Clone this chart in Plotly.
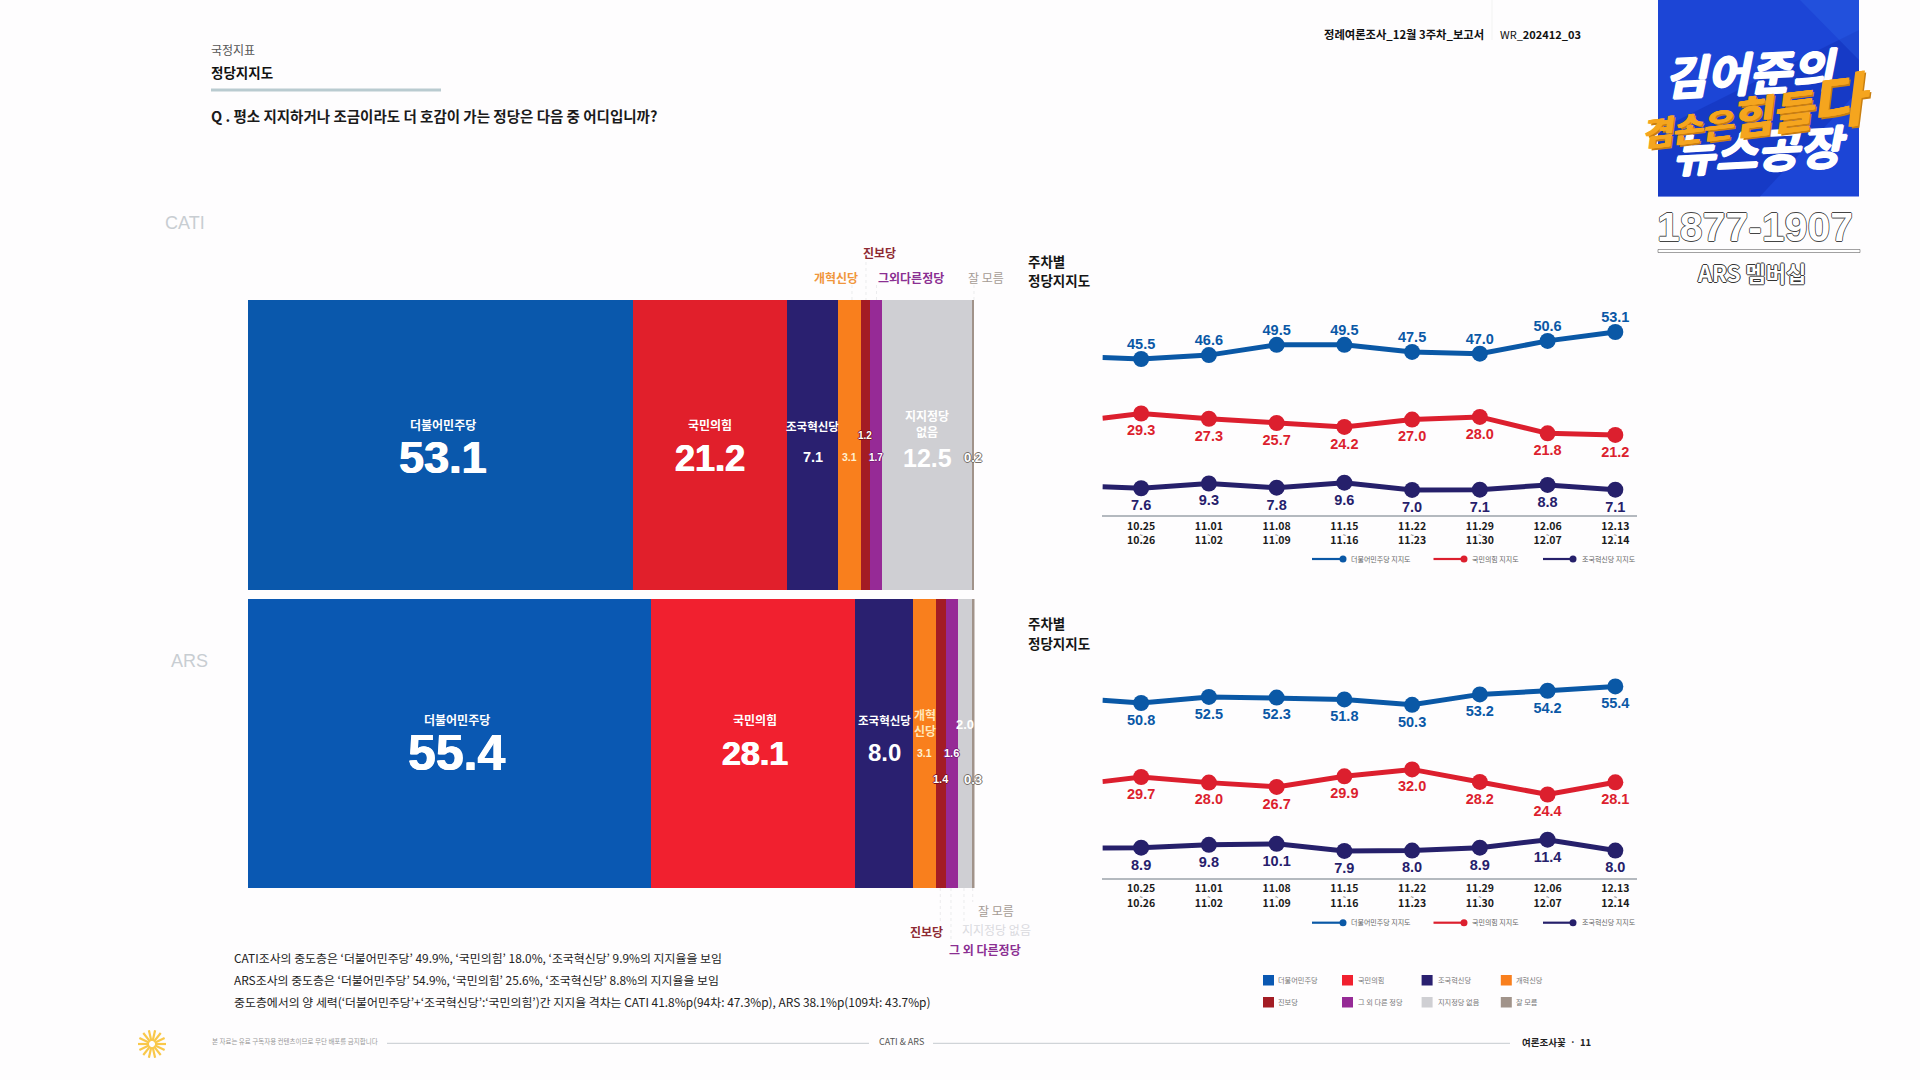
import math
import plotly.graph_objects as go

# ---- data ----
parties = ["더불어민주당", "국민의힘", "조국혁신당", "개혁신당", "진보당", "그 외 다른 정당", "지지정당 없음", "잘 모름"]
cati_values = [53.1, 21.2, 7.1, 3.1, 1.2, 1.7, 12.5, 0.2]
ars_values = [55.4, 28.1, 8.0, 3.1, 1.4, 1.6, 2.0, 0.3]
cati_colors = ["#0A58AC", "#E11F2B", "#2A2070", "#F97F1D", "#A31C24", "#962A96", "#CFCFD3", "#A1938A"]
ars_colors = ["#0A58B2", "#F1202F", "#2A2070", "#F97F1D", "#A31C24", "#962A96", "#CFCFD3", "#A1938A"]

week_start = ["10.25", "11.01", "11.08", "11.15", "11.22", "11.29", "12.06", "12.13"]
week_end = ["10.26", "11.02", "11.09", "11.16", "11.23", "11.30", "12.07", "12.14"]
line_names = ["더불어민주당 지지도", "국민의힘 지지도", "조국혁신당 지지도"]
line_colors = ["#0A58A6", "#DC1F2E", "#26206B"]

cati_dem = [45.5, 46.6, 49.5, 49.5, 47.5, 47.0, 50.6, 53.1]
cati_ppp = [29.3, 27.3, 25.7, 24.2, 27.0, 28.0, 21.8, 21.2]
cati_reb = [7.6, 9.3, 7.8, 9.6, 7.0, 7.1, 8.8, 7.1]
cati_prev = [45.9, 27.5, 8.1]   # visible lead-in from the earlier week

ars_dem = [50.8, 52.5, 52.3, 51.8, 50.3, 53.2, 54.2, 55.4]
ars_ppp = [29.7, 28.0, 26.7, 29.9, 32.0, 28.2, 24.4, 28.1]
ars_reb = [8.9, 9.8, 10.1, 7.9, 8.0, 8.9, 11.4, 8.0]
ars_prev = [51.6, 28.3, 8.8]

FONT = "Noto Sans CJK KR"
NUM = "Liberation Sans"
W, H = 1920, 1080
px = lambda x: x / W
py = lambda y: 1 - y / H

fig = go.Figure()
ann = []
shp = []


def text(x, y, s, size=12, color="#222", anchor="center", bold=False, xref="paper", angle=0, shadow=None, italic=False, family=FONT):
    f = dict(family=family, size=size, color=color, weight=700 if bold else 400)
    if shadow:
        f["shadow"] = shadow
    if italic:
        f["style"] = "italic"
    adj = 0 if family == NUM else 0.8 + size * 0.03
    ann.append(dict(x=px(x) if xref == "paper" else x, y=py(y - adj), xref=xref, yref="paper", text=s, showarrow=False,
                    xanchor=anchor, yanchor="middle", font=f, textangle=angle, align="center", borderpad=0, borderwidth=0))


def rect(x0, y0, x1, y1, fill, line=None):
    shp.append(dict(type="rect", xref="paper", yref="paper", x0=px(x0), x1=px(x1), y0=py(y0), y1=py(y1),
                    fillcolor=fill, line=dict(color=line or fill, width=0.5 if line else 0), layer="above"))


def seg(x0, y0, x1, y1, color, width=1, dash=None):
    shp.append(dict(type="line", xref="paper", yref="paper", x0=px(x0), x1=px(x1), y0=py(y0), y1=py(y1),
                    line=dict(color=color, width=width, dash=dash or "solid"), layer="above"))


def poly(points, fill, opacity=1.0):
    d = "M" + " L".join(f"{px(a):.5f},{py(b):.5f}" for a, b in points) + " Z"
    shp.append(dict(type="path", xref="paper", yref="paper", path=d, fillcolor=fill, opacity=opacity, line=dict(width=0), layer="above"))


def outline(c, w=1):
    return f"-{w}px 0 {c}, {w}px 0 {c}, 0 -{w}px {c}, 0 {w}px {c}"


HEAVY = "0.6px 0 white, -0.6px 0 white"

# ---- stacked bars ----
layout_axes = {}
for values, colors, xa, ya, yrange in [(cati_values, cati_colors, "x", "y", (300, 590)),
                                       (ars_values, ars_colors, "x2", "y2", (599, 888))]:
    for name, v, c in zip(parties, values, colors):
        fig.add_trace(go.Bar(x=[v], y=[0], orientation="h", marker=dict(color=c, line=dict(width=0)), name=name,
                             xaxis=xa, yaxis=ya, showlegend=False, hoverinfo="x+name"))
    xkey = "xaxis" if xa == "x" else "xaxis2"
    ykey = "yaxis" if ya == "y" else "yaxis2"
    x_end = 974 if xa == "x" else 974.5
    layout_axes[xkey] = dict(domain=[px(248), px(x_end)], range=[0, sum(values)], visible=False, anchor=ya, fixedrange=True)
    layout_axes[ykey] = dict(domain=[py(yrange[1]), py(yrange[0])], range=[-0.5, 0.5], visible=False, anchor=xa, fixedrange=True)


def centers(values):
    out, c = [], 0
    for v in values:
        out.append(c + v / 2)
        c += v
    return out


cc = centers(cati_values)
ac = centers(ars_values)
fmt = lambda v: f"{v:.1f}"

text(cc[0] + 0.4, 426, parties[0], 12, "white", bold=True, xref="x")
text(cc[0] + 0.4, 457, fmt(cati_values[0]), 45, "white", bold=True, xref="x", family=NUM, shadow=HEAVY)
text(cc[1], 426, parties[1], 12, "white", bold=True, xref="x")
text(cc[1], 458, fmt(cati_values[1]), 36, "white", bold=True, xref="x", family=NUM, shadow=HEAVY)
text(cc[2], 427, parties[2], 11.5, "white", bold=True, xref="x")
text(cc[2], 457, fmt(cati_values[2]), 14.5, "white", bold=True, xref="x", family=NUM)
text(cc[3], 457, fmt(cati_values[3]), 10.5, "#FFF0D0", bold=True, xref="x", family=NUM)
text(cc[4], 436, fmt(cati_values[4]), 10, "white", bold=True, xref="x", family=NUM, shadow=outline("#7A1218"))
text(cc[5], 457, fmt(cati_values[5]), 10, "white", bold=True, xref="x", family=NUM, shadow=outline("#7A1A7A"))
text(cc[6], 417, "지지정당", 12, "white", bold=True, xref="x")
text(cc[6], 433, "없음", 12, "white", bold=True, xref="x")
text(cc[6], 457.5, fmt(cati_values[6]), 25, "white", bold=True, xref="x", family=NUM)
text(cc[7], 457, fmt(cati_values[7]), 13, "white", bold=True, xref="x", family=NUM, shadow=outline("#77706A"))

text(ac[0] + 1.1, 721, parties[0], 12, "white", bold=True, xref="x2")
text(ac[0] + 1.1, 753, fmt(ars_values[0]), 50, "white", bold=True, xref="x2", family=NUM, shadow=HEAVY)
text(ac[1] + 0.3, 721, parties[1], 12, "white", bold=True, xref="x2")
text(ac[1] + 0.3, 753, fmt(ars_values[1]), 34, "white", bold=True, xref="x2", family=NUM, shadow=HEAVY)
text(ac[2], 721, parties[2], 11.5, "white", bold=True, xref="x2")
text(ac[2], 752, fmt(ars_values[2]), 24, "white", bold=True, xref="x2", family=NUM)
text(ac[3], 716, "개혁", 12, "#FFE6B8", bold=True, xref="x2")
text(ac[3], 732, "신당", 12, "#FFE6B8", bold=True, xref="x2")
text(ac[3], 753, fmt(ars_values[3]), 10.5, "#FFF0D0", bold=True, xref="x2", family=NUM)
text(ac[4], 779, fmt(ars_values[4]), 11, "white", bold=True, xref="x2", family=NUM, shadow=outline("#7A1218"))
text(ac[5], 753, fmt(ars_values[5]), 11, "white", bold=True, xref="x2", family=NUM, shadow=outline("#7A1A7A"))
text(ac[6], 724, fmt(ars_values[6]), 13, "white", bold=True, xref="x2", family=NUM)
text(ac[7], 779, fmt(ars_values[7]), 13, "white", bold=True, xref="x2", family=NUM, shadow=outline("#77706A"))

# bar callouts
for x, y0, y1 in [(852, 285, 300), (866, 262, 300), (876.5, 285, 300), (974, 285, 300),
                  (940.3, 888, 922), (951, 888, 943), (964, 888, 922), (972.7, 888, 902)]:
    seg(x, y0, x, y1, "#E4E4E7", 0.7, "dot")
text(879, 254, "진보당", 12, "#8E2A33", bold=True)
text(836, 279, "개혁신당", 12, "#F0963C", bold=True)
text(911, 279, "그외다른정당", 12, "#8B2F92", bold=True)
text(986, 279, "잘 모름", 12, "#A59B94")
text(995.7, 912, "잘 모름", 12, "#A59B94")
text(996.7, 931, "지지정당 없음", 12, "#DADADE")
text(926.7, 933, "진보당", 12, "#8E2A33", bold=True)
text(985, 951, "그 외 다른정당", 12, "#8B2F92", bold=True)
text(165, 223, "CATI", 18, "#C8CDD2", anchor="left", family=NUM)
text(171, 661, "ARS", 18, "#C8CDD2", anchor="left", family=NUM)

# ---- weekly line panels ----
x_idx = list(range(8))
x_left, x_right = -0.572, 7.32
DATE = '<span style="font-size:10.5px;font-weight:700">'
tick_text = [f"{DATE}{a}</span><br><b>~</b><br>{DATE}{b}</span>" for a, b in zip(week_start, week_end)]

panels = [
    dict(series=[cati_dem, cati_ppp, cati_reb], prev=cati_prev, xa="x3", yas=["y3", "y4", "y5"],
         ranges=[[1.55, 62.1], [-9.2, 72.2], [-2.04, 74.75]], top=300, bottom=515.3,
         pos=["top center", "bottom center", "bottom center"], gap=[8, 16, 16], legend_y=559),
    dict(series=[ars_dem, ars_ppp, ars_reb], prev=ars_prev, xa="x4", yas=["y6", "y7", "y8"],
         ranges=[[2.3, 68.3], [-0.8, 71.2], [-0.475, 73.8]], top=640, bottom=877.7,
         pos=["bottom center", "bottom center", "bottom center"], gap=[16, 16, 16], legend_y=922.7),
]
for p in panels:
    xkey = "xaxis" + p["xa"][1:]
    layout_axes[xkey] = dict(domain=[px(1102.4), px(1637)], range=[x_left, x_right], anchor=p["yas"][0],
                             showline=True, linecolor="#B4B9BF", linewidth=1.5, showgrid=False, zeroline=False,
                             tickmode="array", tickvals=x_idx, ticktext=tick_text, ticks="", tickangle=0,
                             tickfont=dict(family=FONT, size=5.6, color="#1A1A1A"), ticklabelstandoff=6, fixedrange=True)
    for i, ya in enumerate(p["yas"]):
        ykey = "yaxis" + ya[1:]
        cfg = dict(domain=[py(p["bottom"]), py(p["top"])], range=p["ranges"][i], visible=False, anchor=p["xa"],
                   showgrid=False, zeroline=False, fixedrange=True)
        if i:
            cfg["overlaying"] = p["yas"][0]
        layout_axes[ykey] = cfg
        col = line_colors[i]
        vals = p["series"][i]
        fig.add_trace(go.Scatter(x=[x_left] + x_idx, y=[p["prev"][i]] + vals, mode="lines", line=dict(color=col, width=5),
                                 xaxis=p["xa"], yaxis=ya, showlegend=False, hoverinfo="skip", name=line_names[i]))
        fig.add_trace(go.Scatter(x=x_idx, y=vals, mode="markers", marker=dict(color=col, size=16),
                                 xaxis=p["xa"], yaxis=ya, showlegend=False, name=line_names[i], cliponaxis=False))
        fig.add_trace(go.Scatter(x=x_idx, y=vals, mode="markers+text", marker=dict(size=p["gap"][i], opacity=0), text=[fmt(v) for v in vals],
                                 textposition=p["pos"][i], textfont=dict(family=NUM, size=14.5, color=col, weight=700),
                                 xaxis=p["xa"], yaxis=ya, showlegend=False, hoverinfo="skip", cliponaxis=False))
    for (lx0, lx1, tx), name, col in zip([(1312, 1343, 1350.6), (1433.5, 1464, 1472), (1543, 1573, 1581.6)], line_names, line_colors):
        y = p["legend_y"]
        seg(lx0, y, lx1, y, col, 2.2)
        shp.append(dict(type="circle", xref="paper", yref="paper", x0=px(lx1 - 3.5), x1=px(lx1 + 3.5), y0=py(y + 3.5), y1=py(y - 3.5),
                        fillcolor=col, line=dict(width=0), layer="above"))
        text(tx, y + 0.8, name, 7, "#666", anchor="left")

for y1, y2 in [(262, 281), (624, 644)]:
    text(1028, y1, "주차별", 13.5, "#151515", anchor="left", bold=True)
    text(1028, y2, "정당지지도", 13.5, "#151515", anchor="left", bold=True)

# ---- colour key ----
for i, (name, col) in enumerate(zip(parties, ars_colors)):
    col_i, row = i % 4, i // 4
    x = [1263, 1342, 1421.6, 1500.8][col_i]
    tx = [1277.6, 1358, 1437.5, 1515.5][col_i]
    y = [975, 997][row]
    rect(x, y, x + 11, y + 10.5, col)
    text(tx, y + 6, name, 7.2, "#777", anchor="left")

# ---- page heading ----
text(211, 51, "국정지표", 12, "#555", anchor="left")
text(211, 73, "정당지지도", 13.5, "#111", anchor="left", bold=True)
rect(211, 88.5, 441, 91.5, "#B9CBD0")
text(211, 116.5, "Q . 평소 지지하거나 조금이라도 더 호감이 가는 정당은 다음 중 어디입니까?", 14.5, "#1A1A1A", anchor="left", bold=True)
text(1324, 35, "정례여론조사_12월 3주차_보고서", 11.3, "#111", anchor="left", bold=True)
text(1500, 35, "WR_<b>202412_03</b>", 11, "#111", anchor="left")
seg(1492, 0, 1492, 40, "#EEEEEE", 0.7)

# ---- notes ----
notes = ["CATI조사의 중도층은 ‘더불어민주당’ 49.9%, ‘국민의힘’ 18.0%, ‘조국혁신당’ 9.9%의 지지율을 보임",
         "ARS조사의 중도층은 ‘더불어민주당’ 54.9%, ‘국민의힘’ 25.6%, ‘조국혁신당’ 8.8%의 지지율을 보임",
         "중도층에서의 양 세력(‘더불어민주당’+‘조국혁신당’:‘국민의힘’)간 지지율 격차는 CATI 41.8%p(94차: 47.3%p), ARS 38.1%p(109차: 43.7%p)"]
for y, n in zip([959, 981, 1002.3], notes):
    text(234, y, n, 11.9, "#222", anchor="left")

# ---- footer ----
for k in range(14):
    a = k * 2 * math.pi / 14
    seg(152 + 3 * math.cos(a), 1044 + 3 * math.sin(a), 152 + 14 * math.cos(a), 1044 + 14 * math.sin(a), "#F9C84A", 2.2)
text(211.6, 1042, "본 자료는 유료 구독자용 컨텐츠이므로 무단 배포를 금지합니다", 6.5, "#999", anchor="left")
seg(387, 1043.3, 869, 1043.3, "#C5CACF", 1)
seg(933, 1043.3, 1510, 1043.3, "#C5CACF", 1)
text(901.7, 1043, "CATI & ARS", 9, "#555")
text(1522, 1043, "여론조사꽃  ·  11", 9.5, "#222", anchor="left", bold=True)

# ---- channel badge ----
rect(1658, 0, 1859, 196.5, "#1C45D6")
poly([(1658, 196.5), (1658, 130), (1859, 30), (1859, 90), (1760, 196.5)], "#0F2BB0", 0.4)
poly([(1800, 0), (1859, 0), (1859, 60)], "#2F63E8", 0.35)
text(1751, 73, "김어준의", 46, "white", bold=True, italic=True, angle=-3, shadow=outline("white"))
text(1760, 150, "뉴스공장", 46, "white", bold=True, italic=True, angle=-3, shadow=outline("white"))
text(1755, 110, '<span style="font-size:33px">겸손은</span><span style="font-size:44px">힘들</span><span style="font-size:58px">다</span>',
     44, "#F5A51E", bold=True, italic=True, angle=-7, shadow="1px 0 #F5A51E, -1px 0 #F5A51E, 2px 2px 0 #C97F10")
text(1755, 227, "1877-1907", 41, "white", bold=True, family=NUM, shadow=outline("#444", 0.8))
rect(1658, 249.5, 1860, 252.5, "white", "#444")
text(1751, 273, "ARS 멤버십", 22, "white", bold=True, shadow=outline("#333"))

fig.update_layout(width=W, height=H, margin=dict(l=0, r=0, t=0, b=0), autosize=False, barmode="stack", bargap=0,
                  paper_bgcolor="#FEFDFE", plot_bgcolor="rgba(0,0,0,0)", showlegend=False,
                  annotations=ann, shapes=shp, font=dict(family=FONT), **layout_axes)

fig.write_html("out.html", config=dict(displayModeBar=False),
               post_script="document.body.style.margin='0';document.body.style.overflow='hidden';")
